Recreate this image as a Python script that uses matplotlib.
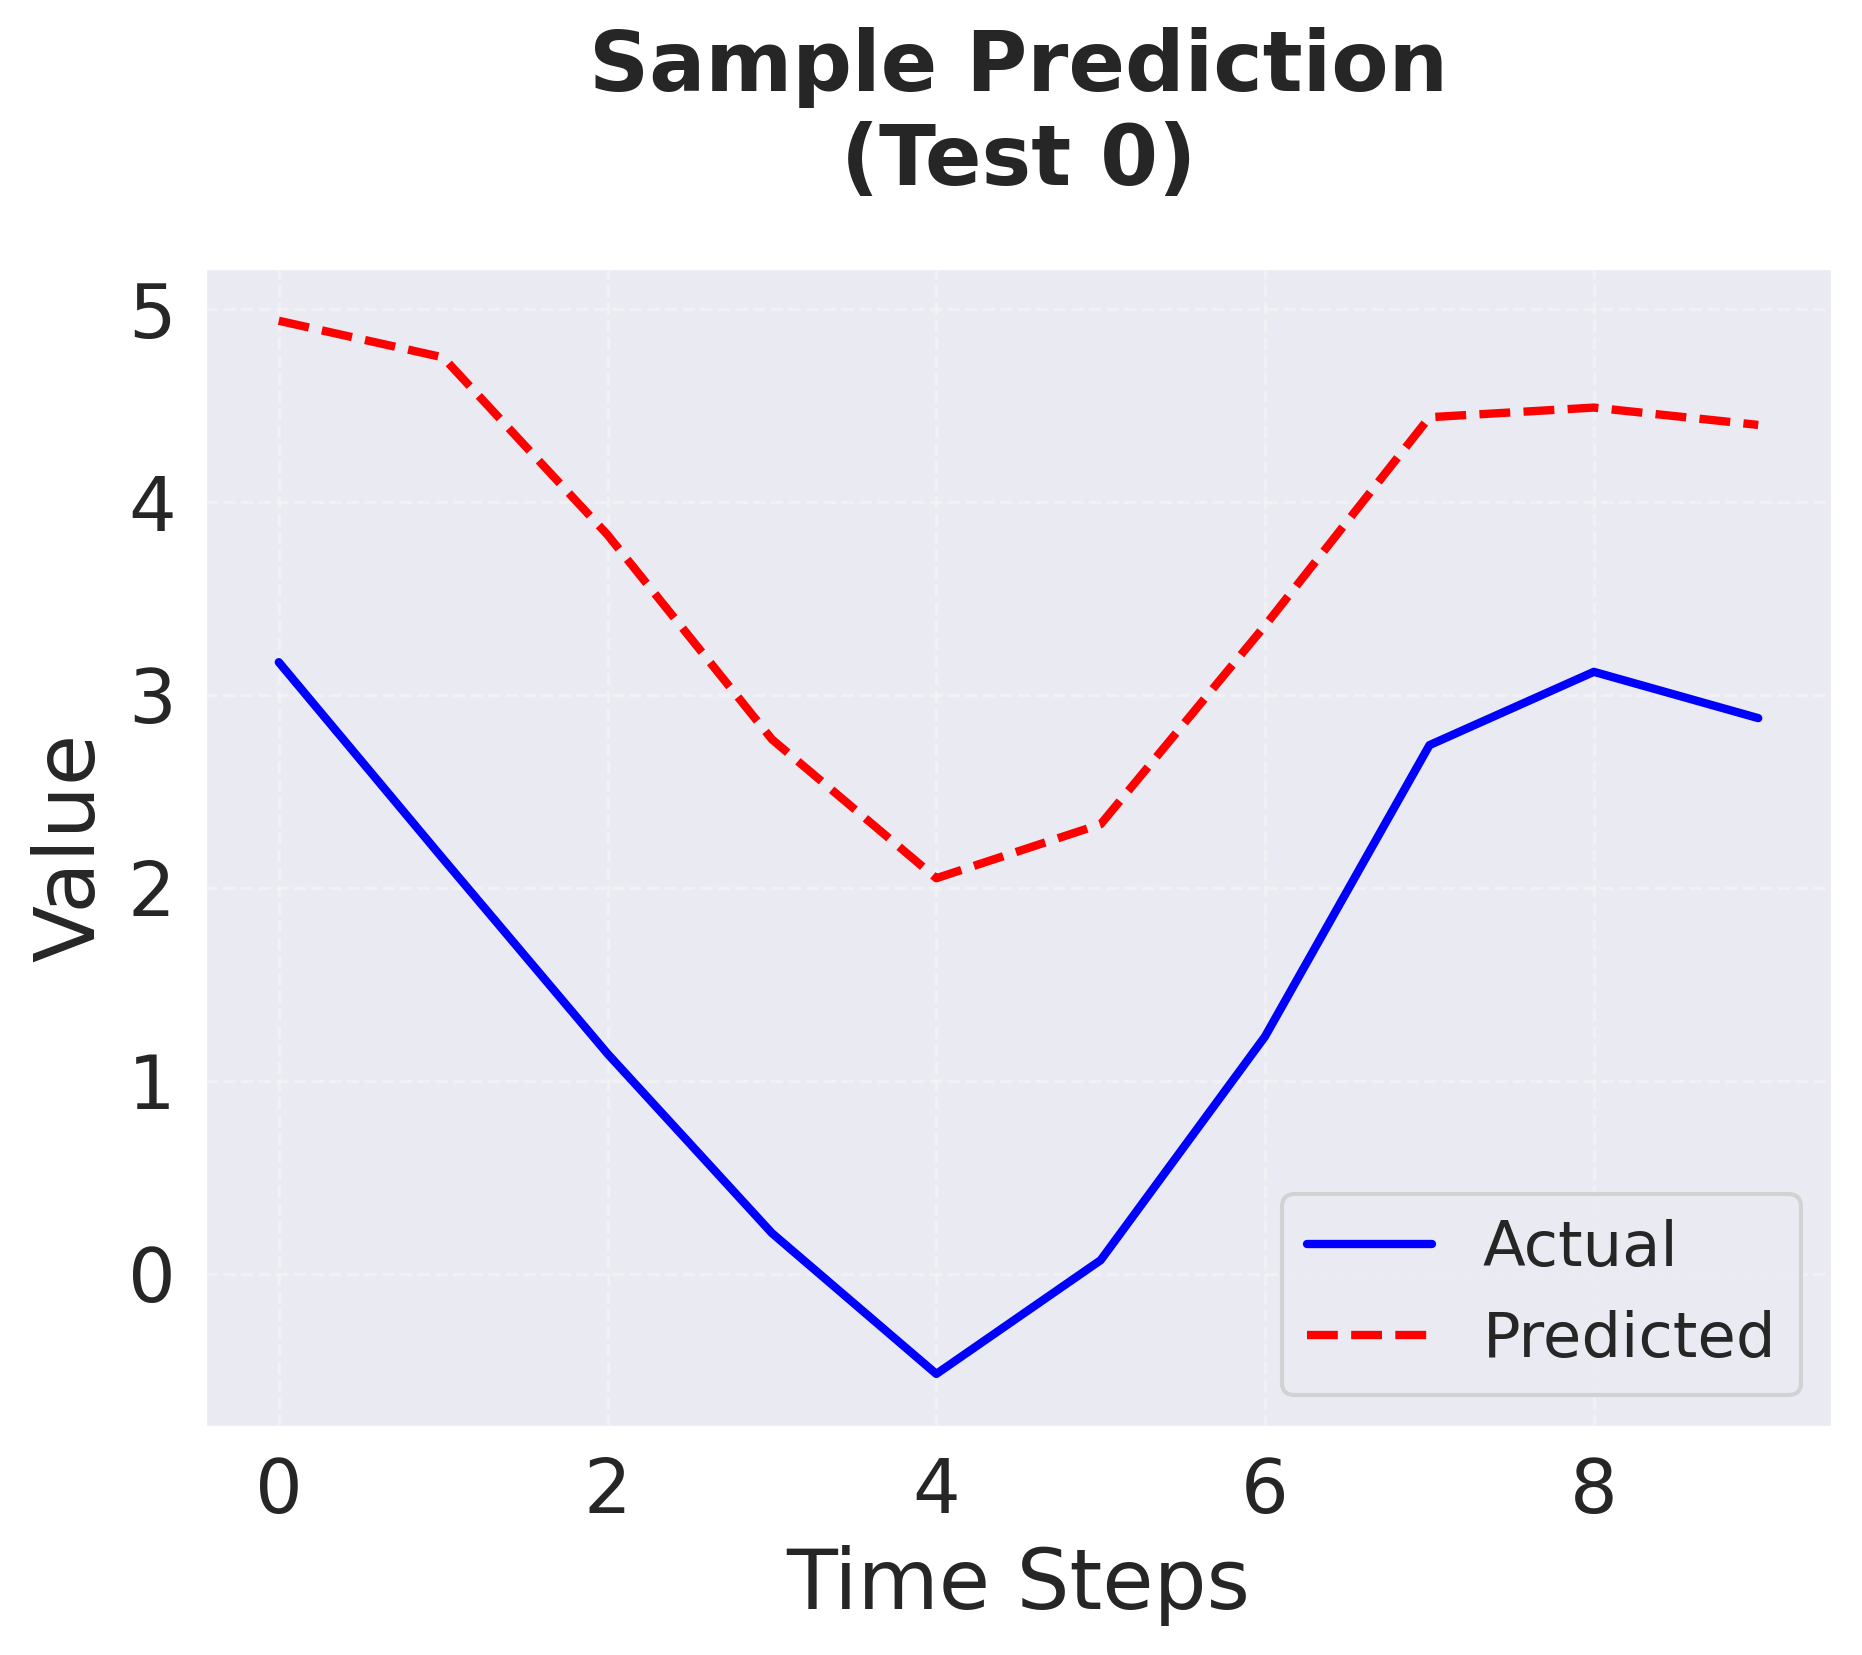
import numpy as np
import matplotlib
matplotlib.use("Agg")
import matplotlib.pyplot as plt
import seaborn as sns

sns.set_style("darkgrid")

time_steps = list(range(10))
actual = [3.17, 2.15, 1.14, 0.21, -0.52, 0.07, 1.23, 2.74, 3.12, 2.88]
predicted = [4.94, 4.75, 3.83, 2.77, 2.05, 2.33, 3.36, 4.44, 4.49, 4.40]

fig, ax = plt.subplots(figsize=(1862 / 300, 1655 / 300), dpi=300)
ax.plot(time_steps, actual, color="blue", linewidth=2, label="Actual")
ax.plot(time_steps, predicted, color="red", linestyle="--", linewidth=2, label="Predicted")

ax.set_title("Sample Prediction\n(Test 0)", fontsize=20, fontweight="bold", pad=20)
ax.set_xlabel("Time Steps", fontsize=20)
ax.set_ylabel("Value", fontsize=20)
ax.tick_params(labelsize=18)
ax.grid(True, linestyle="--", alpha=0.3)
ax.legend(loc="lower right", fontsize=15)

fig.subplots_adjust(left=0.110, right=0.984, top=0.838, bottom=0.138)
fig.savefig("out.png", dpi=300)
